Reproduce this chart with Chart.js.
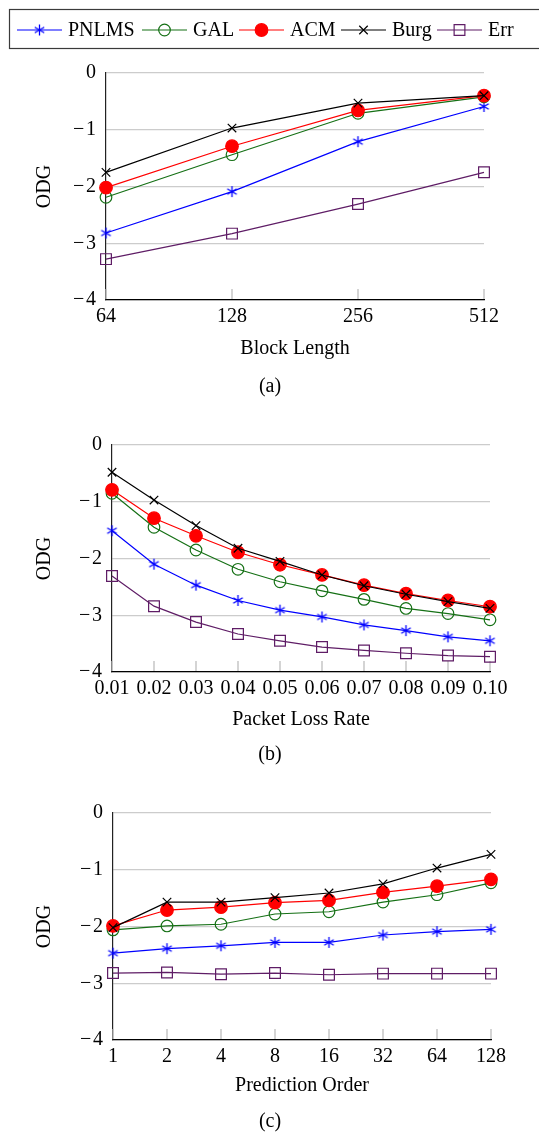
<!DOCTYPE html>
<html><head><meta charset="utf-8">
<script src="https://cdn.jsdelivr.net/npm/chart.js@4.4.0/dist/chart.umd.min.js"></script>
<style>
html,body{margin:0;padding:0;background:#fff;}
body{width:539px;height:1133px;position:relative;overflow:hidden;}
canvas{position:absolute;left:0;}
</style></head><body>
<canvas id="ca" width="539" height="400" style="top:0px"></canvas>
<canvas id="cb" width="539" height="370" style="top:400px"></canvas>
<canvas id="cc" width="539" height="363" style="top:770px"></canvas>
<script>
// ---------- data ----------
const seriesNames = ['PNLMS', 'GAL', 'ACM', 'Burg', 'Err'];
const yTicks = [0, -1, -2, -3, -4];

// (a) Block Length
const blockLabels = ['64', '128', '256', '512'];
const aPNLMS = [-2.82, -2.09, -1.21, -0.59];
const aGAL   = [-2.19, -1.44, -0.71, -0.42];
const aACM   = [-2.02, -1.29, -0.66, -0.40];
const aBurg  = [-1.75, -0.97, -0.53, -0.40];
const aErr   = [-3.28, -2.83, -2.31, -1.75];

// (b) Packet Loss Rate
const lossLabels = ['0.01', '0.02', '0.03', '0.04', '0.05', '0.06', '0.07', '0.08', '0.09', '0.10'];
const bPNLMS = [-1.51, -2.10, -2.47, -2.74, -2.91, -3.03, -3.17, -3.27, -3.38, -3.45];
const bGAL   = [-0.85, -1.45, -1.85, -2.19, -2.41, -2.57, -2.72, -2.88, -2.97, -3.08];
const bACM   = [-0.79, -1.29, -1.60, -1.89, -2.11, -2.29, -2.47, -2.62, -2.74, -2.85];
const bBurg  = [-0.48, -0.97, -1.42, -1.82, -2.05, -2.29, -2.48, -2.63, -2.76, -2.88];
const bErr   = [-2.31, -2.84, -3.12, -3.33, -3.45, -3.56, -3.62, -3.67, -3.71, -3.73];

// (c) Prediction Order
const orderLabels = ['1', '2', '4', '8', '16', '32', '64', '128'];
const cPNLMS = [-2.47, -2.39, -2.34, -2.28, -2.28, -2.15, -2.09, -2.05];
const cGAL   = [-2.06, -1.99, -1.96, -1.78, -1.74, -1.57, -1.44, -1.23];
const cACM   = [-1.99, -1.71, -1.66, -1.58, -1.54, -1.40, -1.29, -1.17];
const cBurg  = [-2.02, -1.57, -1.57, -1.49, -1.41, -1.25, -0.97, -0.73];
const cErr   = [-2.82, -2.81, -2.84, -2.82, -2.85, -2.83, -2.83, -2.83];

// ---------- styles ----------
const FONT = "'Liberation Serif', 'Times New Roman', serif";
Chart.defaults.font.family = FONT;
Chart.defaults.font.size = 20;
Chart.defaults.color = '#000';

function asterisk(color) {
  const c = document.createElement('canvas');
  c.width = 13; c.height = 13;
  const x = c.getContext('2d');
  x.strokeStyle = color; x.lineWidth = 1.3;
  x.translate(6.5, 6.5);
  for (let k = 0; k < 3; k++) {
    const a = Math.PI / 2 + k * Math.PI / 3;
    x.beginPath();
    x.moveTo(5.5 * Math.cos(a), 5.5 * Math.sin(a));
    x.lineTo(-5.5 * Math.cos(a), -5.5 * Math.sin(a));
    x.stroke();
  }
  return c;
}

const styles = [
  { color: '#0000ff', pointStyle: asterisk('#0000ff'), radius: 6, fill: 'rgba(0,0,0,0)' },
  { color: '#157015', pointStyle: 'circle', radius: 5.8, fill: 'rgba(0,0,0,0)' },
  { color: '#ff0000', pointStyle: 'circle', radius: 6.3, fill: '#ff0000' },
  { color: '#000000', pointStyle: 'crossRot', radius: 6, fill: 'rgba(0,0,0,0)' },
  { color: '#5f1d66', pointStyle: 'rect', radius: 7.6, fill: 'rgba(0,0,0,0)' }
];

function makeDatasets(arrs) {
  return arrs.map((d, i) => ({
    label: seriesNames[i],
    data: d,
    borderColor: styles[i].color,
    backgroundColor: styles[i].fill,
    pointBackgroundColor: styles[i].fill,
    pointBorderColor: styles[i].color,
    pointStyle: styles[i].pointStyle,
    pointRadius: styles[i].radius,
    pointBorderWidth: 1.2,
    borderWidth: 1.2,
    tension: 0,
    fill: false,
    order: 5 - i
  }));
}

const decor = {
  id: 'decor',
  beforeDatasetsDraw(chart, args, o) {
    const { ctx, chartArea: ca, scales: { x } } = chart;
    ctx.save();
    ctx.strokeStyle = '#bdbdbd';
    ctx.lineWidth = 1.3;
    for (let i = 0; i < x.ticks.length; i++) {
      const px = x.getPixelForTick(i);
      ctx.beginPath();
      ctx.moveTo(px, ca.bottom - 1);
      ctx.lineTo(px, ca.bottom - 11);
      ctx.stroke();
    }
    ctx.restore();
  },
  afterDraw(chart, args, o) {
    const { ctx, chartArea: ca } = chart;
    ctx.save();
    ctx.fillStyle = '#000';
    ctx.font = '20px ' + FONT;
    ctx.textAlign = 'center';
    ctx.textBaseline = 'middle';
    ctx.fillText(o.xTitle, (ca.left + ca.right) / 2, o.xTitleY);
    ctx.fillText(o.caption, 270, o.captionY);
    ctx.translate(45, (ca.top + ca.bottom) / 2);
    ctx.rotate(-Math.PI / 2);
    ctx.fillText('ODG', 0, 0);
    ctx.restore();
    if (o.legend) drawLegend(chart);
  }
};

function drawLegend(chart) {
  const ctx = chart.ctx;
  ctx.save();
  ctx.strokeStyle = '#3a3a3a';
  ctx.lineWidth = 1.2;
  ctx.strokeRect(9.5, 9.5, 540, 39);
  const xs = [17, 142, 239, 341, 437];
  const y = 30;
  chart.data.datasets.forEach((ds, i) => {
    const x0 = xs[i];
    ctx.strokeStyle = ds.borderColor;
    ctx.lineWidth = 1.2;
    ctx.beginPath(); ctx.moveTo(x0, y); ctx.lineTo(x0 + 45, y); ctx.stroke();
    ctx.fillStyle = ds.pointBackgroundColor;
    ctx.strokeStyle = ds.pointBorderColor;
    Chart.helpers.drawPoint(ctx, { pointStyle: ds.pointStyle, radius: ds.pointRadius, rotation: 0, borderWidth: 1.2 }, x0 + 22.5, y);
    ctx.fillStyle = '#000';
    ctx.font = '20px ' + FONT;
    ctx.textAlign = 'left';
    ctx.textBaseline = 'middle';
    ctx.fillText(ds.label, x0 + 51, y + 1);
  });
  ctx.restore();
}

function makeChart(id, labels, arrs, geom, texts) {
  return new Chart(document.getElementById(id), {
    type: 'line',
    data: { labels: labels, datasets: makeDatasets(arrs) },
    plugins: [decor],
    options: {
      responsive: false,
      animation: false,
      devicePixelRatio: 1,
      layout: { padding: { top: geom.top, right: 539 - geom.right, left: 0, bottom: 0 } },
      plugins: { legend: { display: false }, tooltip: { enabled: false }, decor: texts },
      scales: {
        x: {
          type: 'category',
          offset: false,
          grid: { display: false, drawTicks: false },
          border: { display: true, color: '#000', width: 1.2 },
          ticks: { autoSkip: false, maxRotation: 0, padding: 5, font: { size: 20 } },
          afterFit: s => { s.height = geom.canvasH - geom.bottom; }
        },
        y: {
          type: 'linear',
          min: -4, max: 0,
          afterBuildTicks: s => { s.ticks = yTicks.map(v => ({ value: v })); },
          grid: { display: true, color: '#cccccc', lineWidth: 1.3, drawTicks: false },
          border: { display: true, color: '#222', width: 1.2 },
          ticks: {
            padding: 10,
            font: { size: 20 },
            callback: v => v === 0 ? '0' : '\u2212\u200A' + Math.abs(v)
          },
          afterFit: s => { s.width = geom.left; }
        }
      }
    }
  });
}

makeChart('ca', blockLabels, [aPNLMS, aGAL, aACM, aBurg, aErr],
  { left: 106, right: 484, top: 73, bottom: 300, canvasH: 400 },
  { xTitle: 'Block Length', xTitleY: 349, caption: '(a)', captionY: 387, legend: true });
makeChart('cb', lossLabels, [bPNLMS, bGAL, bACM, bBurg, bErr],
  { left: 112, right: 490, top: 45, bottom: 272, canvasH: 370 },
  { xTitle: 'Packet Loss Rate', xTitleY: 320, caption: '(b)', captionY: 355, legend: false });
makeChart('cc', orderLabels, [cPNLMS, cGAL, cACM, cBurg, cErr],
  { left: 113, right: 491, top: 43, bottom: 270, canvasH: 363 },
  { xTitle: 'Prediction Order', xTitleY: 316, caption: '(c)', captionY: 352, legend: false });
</script>
</body></html>
